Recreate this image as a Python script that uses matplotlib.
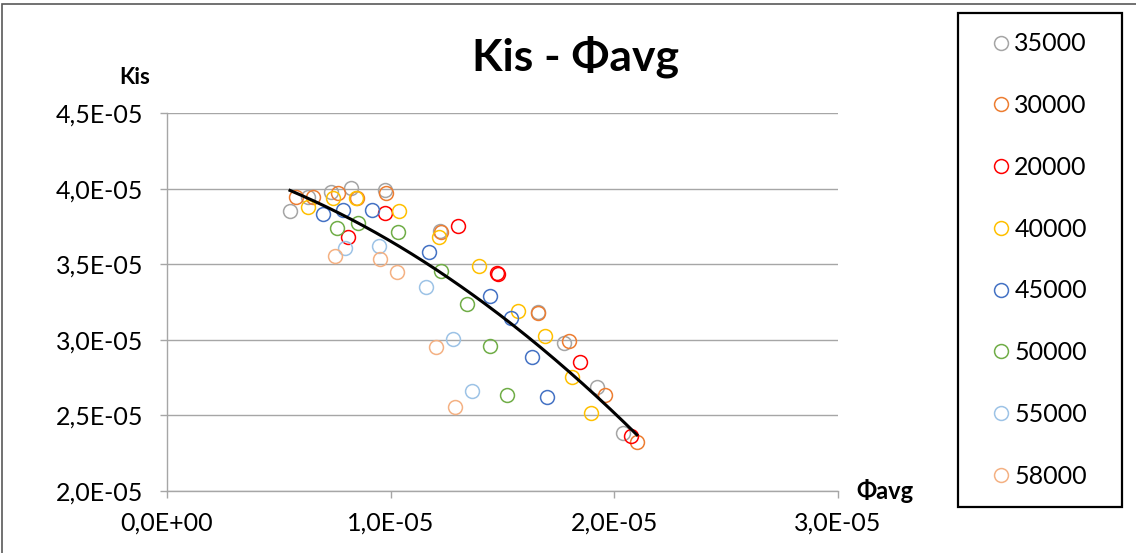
import numpy as np
import matplotlib.pyplot as plt
from matplotlib.patches import Rectangle
from matplotlib.ticker import FuncFormatter

plt.rcParams['font.family'] = ['Lato', 'DejaVu Sans']

# ---------------------------
# datos (Φavg, Kis) en unidades de 1E-05
# ---------------------------
series = ["35000", "30000", "20000", "40000", "45000", "50000", "55000", "58000"]
colores = ["#A5A5A5", "#ED7D31", "#FF0000", "#FFC000",
           "#4472C4", "#70AD47", "#9DC3E6", "#F4B183"]

phi_35000 = [0.550, 0.630, 0.733, 0.823, 0.975, 1.220, 1.658, 1.775, 1.922, 2.038]
kis_35000 = [3.852, 3.944, 3.978, 4.004, 3.991, 3.720, 3.184, 2.979, 2.688, 2.384]

phi_30000 = [0.577, 0.653, 0.764, 0.849, 0.979, 1.225, 1.658, 1.797, 1.958, 2.101]
kis_30000 = [3.944, 3.944, 3.971, 3.938, 3.971, 3.713, 3.177, 2.992, 2.635, 2.324]

phi_20000 = [0.809, 0.975, 1.301, 1.475, 1.480, 1.846, 2.074]
kis_20000 = [3.680, 3.839, 3.753, 3.442, 3.435, 2.853, 2.364]

phi_40000 = [0.630, 0.742, 0.845, 1.037, 1.216, 1.395, 1.569, 1.690, 1.810, 1.895]
kis_40000 = [3.878, 3.938, 3.938, 3.852, 3.680, 3.488, 3.190, 3.025, 2.754, 2.516]

phi_45000 = [0.697, 0.787, 0.916, 1.171, 1.444, 1.538, 1.632, 1.699]
kis_45000 = [3.832, 3.858, 3.858, 3.581, 3.290, 3.144, 2.886, 2.622]

phi_50000 = [0.760, 0.854, 1.033, 1.225, 1.341, 1.444, 1.520]
kis_50000 = [3.739, 3.772, 3.713, 3.455, 3.237, 2.959, 2.635]

phi_55000 = [0.796, 0.948, 1.158, 1.278, 1.363]
kis_55000 = [3.607, 3.620, 3.349, 3.005, 2.661]

phi_58000 = [0.751, 0.952, 1.028, 1.202, 1.287]
kis_58000 = [3.554, 3.534, 3.448, 2.952, 2.556]

datos_phi = [phi_35000, phi_30000, phi_20000, phi_40000,
             phi_45000, phi_50000, phi_55000, phi_58000]
datos_kis = [kis_35000, kis_30000, kis_20000, kis_40000,
             kis_45000, kis_50000, kis_55000, kis_58000]

escala = 1e-5


def formato_e(v, pos):
    return f"{v:.1E}".replace(".", ",")


# ---------------------------
# figura
# ---------------------------
fig = plt.figure(figsize=(11.36, 5.53), dpi=100)
ax = fig.add_axes([167 / 1136, 1 - 491 / 553, 671 / 1136, 378 / 553])

for nombre, color, xs, ys in zip(series, colores, datos_phi, datos_kis):
    ax.plot(np.array(xs) * escala, np.array(ys) * escala, linestyle="none",
            marker="o", markersize=10, markerfacecolor="none",
            markeredgecolor=color, markeredgewidth=1.1, label=nombre)

# línea de tendencia polinómica (orden 2) sobre todos los puntos
x_todos = np.concatenate([np.array(v) for v in datos_phi]) * escala
y_todos = np.concatenate([np.array(v) for v in datos_kis]) * escala
coef = np.polyfit(x_todos, y_todos, 2)
x_t = np.linspace(x_todos.min(), x_todos.max(), 200)
ax.plot(x_t, np.polyval(coef, x_t), color="black", linewidth=2.2, zorder=5)

ax.set_xlim(0, 3e-5)
ax.set_ylim(2e-5, 4.5e-5)
ax.set_xticks(np.arange(0, 3.01e-5, 1e-5))
ax.set_yticks(np.arange(2e-5, 4.51e-5, 0.5e-5))
ax.xaxis.set_major_formatter(FuncFormatter(formato_e))
ax.yaxis.set_major_formatter(FuncFormatter(formato_e))

ax.grid(axis="y", color="#A6A6A6", linewidth=1)
ax.set_axisbelow(True)
for lado in ["top", "right"]:
    ax.spines[lado].set_visible(False)
for lado in ["left", "bottom"]:
    ax.spines[lado].set_color("#A6A6A6")
    ax.spines[lado].set_linewidth(1)
ax.tick_params(axis="both", colors="#A6A6A6", labelcolor="black",
               labelsize=18, length=5, width=1)
ax.tick_params(axis="y", pad=12)
ax.tick_params(axis="x", pad=10)

# textos
fig.text(575 / 1136, 1 - 57 / 553, "Kis - Φavg", fontsize=32,
         fontweight="bold", ha="center", va="center")
fig.text(135 / 1136, 1 - 77 / 553, "Kis", fontsize=16,
         fontweight="bold", ha="center", va="center")
fig.text(885 / 1136, 1 - 491 / 553, "Φavg", fontsize=17,
         fontweight="bold", ha="center", va="center")

# leyenda
fig.legend(loc="center", bbox_to_anchor=(1040 / 1136, 1 - 260 / 553),
           frameon=False, fontsize=18, handlelength=0.6,
           handletextpad=0.25, labelspacing=1.55, borderpad=0)
fig.patches.append(Rectangle((958 / 1136, 1 - 507 / 553), 164 / 1136,
                             494 / 553, transform=fig.transFigure,
                             fill=False, edgecolor="black", linewidth=1.6))

# borde del gráfico
fig.patches.append(Rectangle((2 / 1136, -0.05), 1.2, 1 - 4 / 553 + 0.05,
                             transform=fig.transFigure, fill=False,
                             edgecolor="#595959", linewidth=1.2))

fig.savefig("out.png", dpi=100)
